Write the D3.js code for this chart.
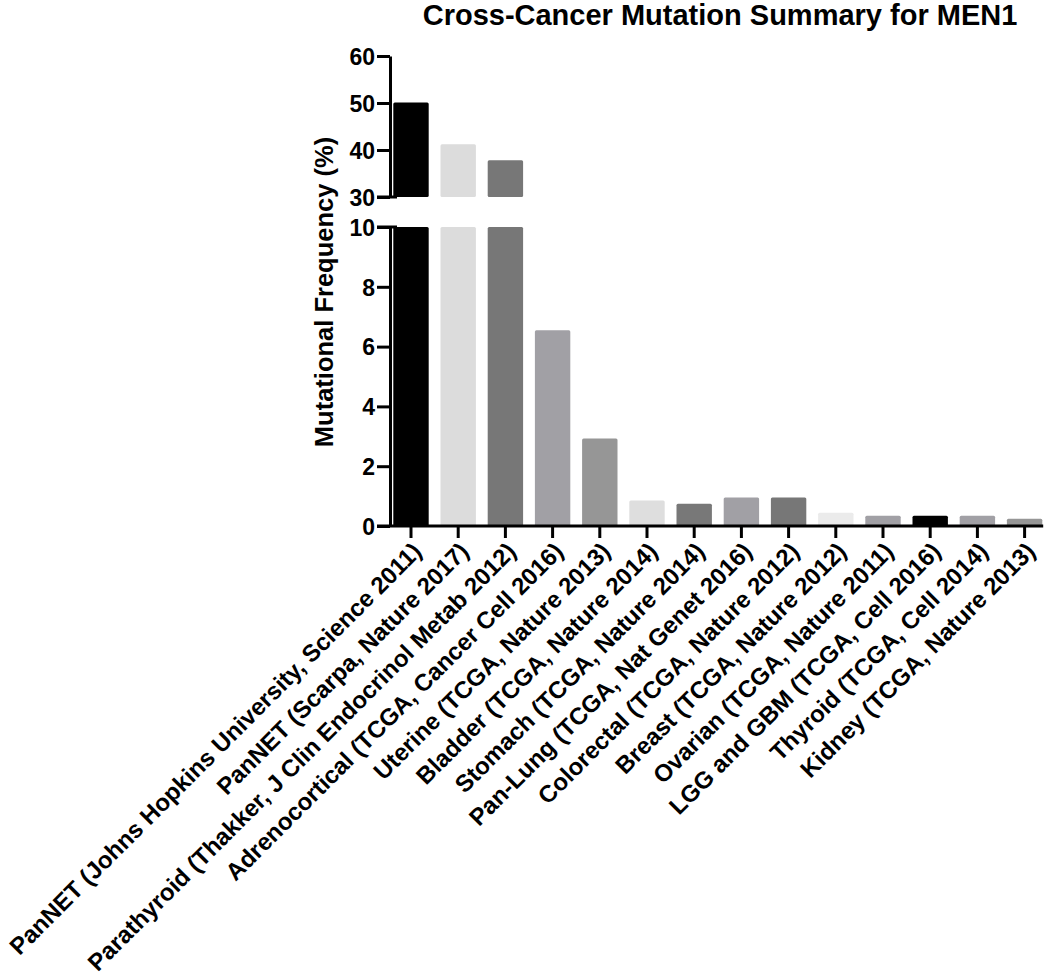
<!DOCTYPE html>
<html>
<head>
<meta charset="utf-8">
<script src="https://cdn.jsdelivr.net/npm/d3@7"></script>
<style>
  body { margin: 0; background: #fff; }
  svg { display: block; font-family: "Liberation Sans", Arial, sans-serif; font-weight: bold; }
  .axis path, .axis line { stroke: #000; stroke-width: 3; }
  .axis text { font-size: 23px; font-weight: bold; fill: #000; }
</style>
</head>
<body>
<div id="chart"></div>
<script>
// DATA
const studies = [
  'PanNET (Johns Hopkins University, Science 2011)',
  'PanNET (Scarpa, Nature 2017)',
  'Parathyroid (Thakker, J Clin Endocrinol Metab 2012)',
  'Adrenocortical (TCGA, Cancer Cell 2016)',
  'Uterine (TCGA, Nature 2013)',
  'Bladder (TCGA, Nature 2014)',
  'Stomach (TCGA, Nature 2014)',
  'Pan-Lung (TCGA, Nat Genet 2016)',
  'Colorectal (TCGA, Nature 2012)',
  'Breast (TCGA, Nature 2012)',
  'Ovarian (TCGA, Nature 2011)',
  'LGG and GBM (TCGA, Cell 2016)',
  'Thyroid (TCGA, Cell 2014)',
  'Kidney (TCGA, Nature 2013)'
];
const frequency = [50.1, 41.2, 37.8, 6.55, 2.93, 0.85, 0.74, 0.95, 0.95, 0.44, 0.34, 0.34, 0.34, 0.24];
const barColors = ['#000000', '#dcdcdc', '#777777', '#a1a0a5', '#969696', '#dedede', '#787878',
                   '#a1a0a5', '#777777', '#ebebeb', '#a1a0a5', '#000000', '#a1a0a5', '#969696'];
const topTicks = [30, 40, 50, 60];
const bottomTicks = [0, 2, 4, 6, 8, 10];

// SVG
const W = 1050, H = 976;
const svg = d3.select('#chart').append('svg').attr('width', W).attr('height', H);

// scales (broken y axis : 0-10 below, 30-60 above)
const axisX = 390;
const x = d3.scaleBand().domain(studies).range([387.4, 1048.2]).paddingInner(0.25).paddingOuter(0.125);
const yBot = d3.scaleLinear().domain([0, 10]).range([526, 227]);
const yTop = d3.scaleLinear().domain([30, 60]).range([197, 56]);

// bars
const bars = svg.append('g');
bars.selectAll('.bar-low')
  .data(frequency)
  .enter()
  .append('rect')
  .attr('x', (d, i) => x(studies[i]))
  .attr('width', x.bandwidth())
  .attr('y', d => yBot(Math.min(d, 10)))
  .attr('height', d => yBot(0) - yBot(Math.min(d, 10)))
  .attr('rx', 1.5)
  .style('fill', (d, i) => barColors[i]);

bars.selectAll('.bar-high')
  .data(frequency.filter(d => d > 30))
  .enter()
  .append('rect')
  .attr('x', (d, i) => x(studies[i]))
  .attr('width', x.bandwidth())
  .attr('y', d => yTop(d))
  .attr('height', d => yTop(30) - yTop(d))
  .attr('rx', 1.5)
  .style('fill', (d, i) => barColors[i]);

// y axes
svg.append('g').classed('axis', true)
  .attr('transform', 'translate(' + axisX + ',0)')
  .call(d3.axisLeft(yTop).tickValues(topTicks).tickSize(13).tickSizeOuter(0).tickPadding(2));
svg.append('g').classed('axis', true)
  .attr('transform', 'translate(' + axisX + ',0)')
  .call(d3.axisLeft(yBot).tickValues(bottomTicks).tickSize(13).tickSizeOuter(0).tickPadding(2));
svg.selectAll('.axis text').attr('dy', '0.36em');

// break marks
svg.append('line').attr('x1', axisX - 13).attr('x2', axisX + 7)
  .attr('y1', yTop(30)).attr('y2', yTop(30)).style('stroke', '#000').style('stroke-width', 3);
svg.append('line').attr('x1', axisX - 13).attr('x2', axisX + 7)
  .attr('y1', yBot(10)).attr('y2', yBot(10)).style('stroke', '#000').style('stroke-width', 3);

// x axis
const gX = svg.append('g').classed('axis', true)
  .attr('transform', 'translate(0,' + yBot(0) + ')')
  .call(d3.axisBottom(x).tickSize(12).tickSizeOuter(0));
gX.select('.domain').attr('d', 'M' + (axisX - 13) + ',0H' + (x.range()[1] - 5));
gX.selectAll('.tick text')
  .style('font-size', '24px')
  .attr('text-anchor', 'end')
  .attr('x', 0)
  .attr('y', 0)
  .attr('dy', '0.35em')
  .attr('transform', 'translate(6,21) rotate(-45)');

// y label
svg.append('text')
  .attr('transform', 'translate(333,292) rotate(-90)')
  .attr('text-anchor', 'middle')
  .style('font-size', '25.5px')
  .text('Mutational Frequency (%)');

// title
svg.append('text')
  .attr('x', 720)
  .attr('y', 25)
  .attr('text-anchor', 'middle')
  .style('font-size', '29px')
  .text('Cross-Cancer Mutation Summary for MEN1');
</script>
</body>
</html>
